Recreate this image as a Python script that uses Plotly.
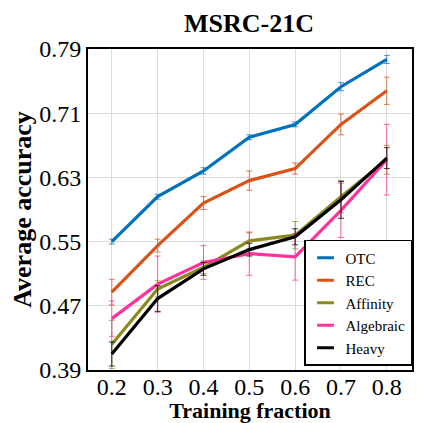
import plotly.graph_objects as go

fractions = [0.2, 0.3, 0.4, 0.5, 0.6, 0.7, 0.8]

otc = [0.550, 0.606, 0.638, 0.680, 0.696, 0.743, 0.777]
otc_err = [0.003, 0.003, 0.004, 0.003, 0.003, 0.005, 0.005]

rec = [0.487, 0.545, 0.598, 0.626, 0.641, 0.696, 0.738]
rec_err = [0.016, 0.008, 0.008, 0.012, 0.007, 0.013, 0.017]

affinity = [0.422, 0.491, 0.518, 0.551, 0.558, 0.606, 0.652]
affinity_err = [0.030, 0.010, 0.008, 0.010, 0.017, 0.020, 0.018]

algebraic = [0.454, 0.497, 0.524, 0.535, 0.531, 0.589, 0.652]
algebraic_err = [0.022, 0.035, 0.021, 0.027, 0.029, 0.034, 0.044]

heavy = [0.410, 0.479, 0.516, 0.540, 0.556, 0.602, 0.654]
heavy_err = [0.015, 0.016, 0.008, 0.008, 0.010, 0.023, 0.013]

series = [
    ("OTC", otc, otc_err, "#0072BD", "rgba(0,114,189,0.75)"),
    ("REC", rec, rec_err, "#D95319", "rgba(217,83,25,0.75)"),
    ("Affinity", affinity, affinity_err, "#8C8A1C", "rgba(140,138,28,0.75)"),
    ("Algebraic", algebraic, algebraic_err, "#FF3399", "rgba(255,51,153,0.75)"),
    ("Heavy", heavy, heavy_err, "#000000", "rgba(0,0,0,0.75)"),
]

y_ticks = [0.39, 0.47, 0.55, 0.63, 0.71, 0.79]

serif = "Liberation Serif"
W = H = 415  # page body has an 8px margin
fig = go.Figure()

for name, vals, errs, col, ecol in series:
    fig.add_trace(go.Scatter(
        x=fractions, y=vals, mode="lines", name=name,
        line=dict(color=col, width=3.2),
        error_y=dict(type="data", array=errs, visible=True,
                     color=ecol, thickness=1, width=3),
        showlegend=False,
    ))

for name, vals, errs, col, ecol in series:
    fig.add_trace(go.Scatter(
        x=[None], y=[None], mode="markers", name=name,
        marker=dict(symbol="line-ew", size=12,
                    line=dict(color=col, width=3)),
        showlegend=True,
    ))

fig.update_layout(
    width=W, height=H,
    margin=dict(l=80, r=11, t=41, b=53, autoexpand=False),
    paper_bgcolor="white", plot_bgcolor="white",
    title=dict(text="<b>MSRC-21C</b>", x=(249 - 8) / W, xanchor="center",
               y=1 - (23 - 8) / H, yanchor="middle",
               font=dict(family=serif, size=26, color="black")),
    font=dict(family=serif, color="black"),
    xaxis=dict(range=[0.148, 0.855], tickvals=fractions,
               ticktext=[f"{v:.1f}" for v in fractions],
               tickfont=dict(size=24, family=serif),
               ticklabelstandoff=-6,
               showgrid=True, gridcolor="#dcdcdc", gridwidth=1,
               showline=True, linecolor="black", linewidth=2, mirror=True,
               ticks="", zeroline=False, automargin=False,
               title=dict(text="<b>Training fraction</b>",
                          font=dict(size=22, family=serif), standoff=0)),
    yaxis=dict(range=[0.39, 0.79], tickvals=y_ticks,
               ticktext=[f"{v:.2f}" for v in y_ticks],
               tickfont=dict(size=24, family=serif),
               showgrid=True, gridcolor="#dcdcdc", gridwidth=1,
               showline=True, linecolor="black", linewidth=2, mirror=True,
               ticks="", zeroline=False, automargin=False,
               title=dict(text="<b>Average accuracy</b>",
                          font=dict(size=26, family=serif), standoff=0)),
    legend=dict(x=1.0, y=0.405, xanchor="right", yanchor="top",
                bgcolor="white", bordercolor="black", borderwidth=1.5,
                font=dict(family=serif, size=15, color="black"),
                itemwidth=30, tracegroupgap=0),
)

fig.write_html("out.html")
